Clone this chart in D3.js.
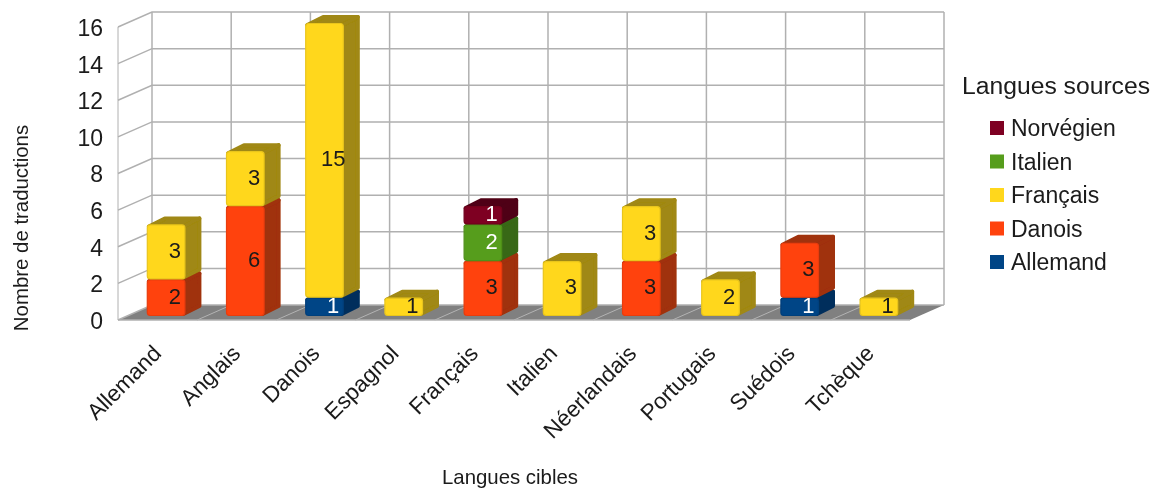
<!DOCTYPE html>
<html>
<head>
<meta charset="utf-8">
<script src="https://cdn.jsdelivr.net/npm/d3@7"></script>
<style>
  html, body { margin: 0; background: #fff; }
  text { font-family: "Liberation Sans", sans-serif; fill: #1a1a1a; }
</style>
</head>
<body>
<div id="svg-container"></div>
<script>
const categories = ["Allemand", "Anglais", "Danois", "Espagnol", "Français", "Italien", "Néerlandais", "Portugais", "Suédois", "Tchèque"];
const seriesNames = ["Allemand", "Danois", "Français", "Italien", "Norvégien"];
const allemand = [0, 0, 1, 0, 0, 0, 0, 0, 1, 0];
const danois = [2, 6, 0, 0, 3, 0, 3, 0, 3, 0];
const francais = [3, 3, 15, 1, 0, 3, 3, 2, 0, 1];
const italien = [0, 0, 0, 0, 2, 0, 0, 0, 0, 0];
const norvegien = [0, 0, 0, 0, 1, 0, 0, 0, 0, 0];
const seriesValues = [allemand, danois, francais, italien, norvegien];
const yTicks = [0, 2, 4, 6, 8, 10, 12, 14, 16];

const frontColors = ["#004586", "#ff420e", "#ffd71f", "#579d1c", "#7e0021"];
const sideColors = ["#002f5c", "#a03009", "#a08812", "#386713", "#4f0015"];
const labelColors = ["#fff", "#1a1a1a", "#1a1a1a", "#fff", "#fff"];

const width = 1154, height = 488;
const x0 = 118, x1 = 910, yBase = 320, yTop = 27;
const depthX = 34, depthY = -15;   // wall depth
const barDX = 16, barDY = -8;      // bar depth
const inX = 9, inY = -4;           // gap between floor front and bar

const svg = d3.select("#svg-container")
    .append("svg")
    .attr("width", width)
    .attr("height", height)
    .style("display", "block");

svg.append("defs").append("filter")
    .attr("id", "soft")
    .append("feGaussianBlur")
    .attr("stdDeviation", 0.45);

const plot = svg.append("g").attr("filter", "url(#soft)");

const xScale = d3.scaleBand()
    .domain(categories)
    .range([x0 + inX, x1 + inX])
    .paddingInner(0.5)
    .paddingOuter(0.25);

const yScale = d3.scaleLinear().domain([0, 16]).range([yBase, yTop]);

const step = xScale.step();
const edges = d3.range(categories.length + 1).map(i => x0 + i * step);

const buildWalls = () => {
    const gridColor = "#b0b0b0";
    const pts = a => a.map(p => p.join(",")).join(" ");

    // floor
    plot.append("polygon")
        .attr("points", pts([[x0, yBase], [x0 + depthX, yBase + depthY], [x1 + depthX, yBase + depthY], [x1, yBase]]))
        .attr("fill", "#808080");

    // horizontal grid on side wall + back wall
    plot.selectAll(".grid")
        .data(yTicks)
        .enter()
        .append("polyline")
        .attr("class", "grid")
        .attr("fill", "none")
        .attr("stroke", gridColor)
        .attr("stroke-width", 1.5)
        .attr("points", d => pts([[x0, yScale(d)], [x0 + depthX, yScale(d) + depthY], [x1 + depthX, yScale(d) + depthY]]));

    // vertical grid on back wall
    plot.selectAll(".vgrid")
        .data(edges)
        .enter()
        .append("line")
        .attr("class", "vgrid")
        .attr("x1", d => d + depthX)
        .attr("x2", d => d + depthX)
        .attr("y1", yScale(16) + depthY)
        .attr("y2", yBase + depthY)
        .attr("stroke", gridColor)
        .attr("stroke-width", 1.5);

    // diagonal lines on floor
    plot.selectAll(".fgrid")
        .data(edges.slice(1, -1))
        .enter()
        .append("line")
        .attr("class", "fgrid")
        .attr("x1", d => d)
        .attr("x2", d => d + depthX)
        .attr("y1", yBase)
        .attr("y2", yBase + depthY)
        .attr("stroke", "#b3b3b3")
        .attr("stroke-width", 1);

    plot.append("line")
        .attr("x1", x0).attr("x2", x0)
        .attr("y1", yScale(16)).attr("y2", yBase)
        .attr("stroke", gridColor)
        .attr("stroke-width", 1);
    plot.append("line")
        .attr("x1", x0).attr("x2", x1)
        .attr("y1", yBase).attr("y2", yBase)
        .attr("stroke", gridColor)
        .attr("stroke-width", 1.5);
};

const buildBars = () => {
    const rows = categories.map((c, i) => {
        const row = { category: c };
        seriesNames.forEach((s, j) => { row[s] = seriesValues[j][i]; });
        return row;
    });
    const stacked = d3.stack().keys(seriesNames)(rows);
    const w = xScale.bandwidth() - 1;
    const labels = [];

    stacked.forEach((layer, j) => {
        layer.forEach(seg => {
            if (seg[1] === seg[0]) return;
            const x = xScale(seg.data.category);
            const yB = yScale(seg[0]) + inY;
            const yT = yScale(seg[1]) + inY;
            const g = plot.append("g");
            const r = 2;

            g.append("polygon")
                .attr("points", [[x + w - r, yT + r], [x + w - r + barDX, yT + r + barDY],
                                 [x + w - r + barDX, yB - r + barDY], [x + w - r, yB - r]].join(" "))
                .attr("fill", sideColors[j])
                .attr("stroke", sideColors[j])
                .attr("stroke-width", r * 2)
                .attr("stroke-linejoin", "round");

            g.append("polygon")
                .attr("points", [[x + r, yT + r], [x + r + barDX, yT + r + barDY],
                                 [x + w - r + barDX, yT + r + barDY], [x + w - r, yT + r]].join(" "))
                .attr("fill", sideColors[j])
                .attr("stroke", sideColors[j])
                .attr("stroke-width", r * 2)
                .attr("stroke-linejoin", "round");

            g.append("rect")
                .attr("x", x + 0.5)
                .attr("y", yT + 0.5)
                .attr("width", w - 1)
                .attr("height", yB - yT - 1)
                .attr("rx", 3)
                .attr("fill", frontColors[j])
                .attr("stroke", d3.color(frontColors[j]).darker(0.25))
                .attr("stroke-width", 1.2);

            labels.push({
                text: seg[1] - seg[0],
                x: x + 28,
                y: (yT + yB) / 2 - 2,
                color: labelColors[j]
            });
        });
    });

    plot.selectAll(".val")
        .data(labels)
        .enter()
        .append("text")
        .attr("class", "val")
        .attr("x", d => d.x)
        .attr("y", d => d.y)
        .attr("dy", "0.36em")
        .attr("text-anchor", "middle")
        .attr("font-size", 22)
        .style("fill", d => d.color)
        .text(d => d.text);
};

const buildAxes = () => {
    const yAxis = d3.axisLeft(yScale).tickValues(yTicks).tickSize(0).tickPadding(15);
    const ax = plot.append("g")
        .attr("transform", `translate(${x0},1)`)
        .call(yAxis);
    ax.select(".domain").remove();
    ax.selectAll("text")
        .attr("font-size", 23)
        .style("font-family", '"Liberation Sans", sans-serif')
        .style("fill", "#1a1a1a");

    plot.selectAll(".cat")
        .data(categories)
        .enter()
        .append("text")
        .attr("class", "cat")
        .attr("text-anchor", "end")
        .attr("font-size", 22.5)
        .attr("transform", d => `translate(${xScale(d) + 10},${yBase + 29}) rotate(-45)`)
        .attr("dy", "0.36em")
        .text(d => d);

    plot.append("text")
        .attr("text-anchor", "middle")
        .attr("font-size", 20.4)
        .attr("transform", "translate(28,228) rotate(-90)")
        .text("Nombre de traductions");

    plot.append("text")
        .attr("x", 510)
        .attr("y", 484)
        .attr("text-anchor", "middle")
        .attr("font-size", 20.4)
        .text("Langues cibles");
};

const buildLegend = () => {
    plot.append("text")
        .attr("x", 962)
        .attr("y", 94)
        .attr("font-size", 24.7)
        .text("Langues sources");

    const order = d3.range(seriesNames.length).reverse();
    const item = plot.selectAll(".leg")
        .data(order)
        .enter()
        .append("g")
        .attr("class", "leg")
        .attr("transform", (d, i) => `translate(990,${128 + i * 33.5})`);

    item.append("rect")
        .attr("y", -7)
        .attr("width", 14)
        .attr("height", 14)
        .attr("fill", d => frontColors[d]);

    item.append("text")
        .attr("x", 21)
        .attr("dy", "0.36em")
        .attr("font-size", 23)
        .text(d => seriesNames[d]);
};

buildWalls();
buildBars();
buildAxes();
buildLegend();
</script>
</body>
</html>
